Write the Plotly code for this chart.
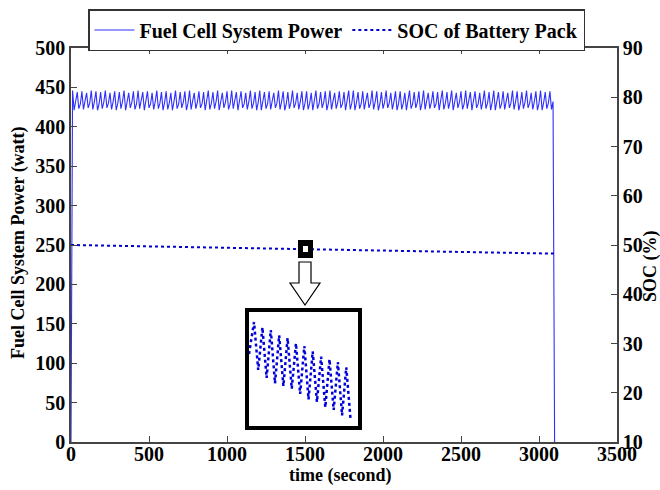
import plotly.graph_objects as go

# ---------------- data ----------------
power_dt = 10.0  # seconds between power samples
power_w = [0,
    446, 421, 431, 444, 423, 429, 445, 422, 433, 443, 424, 430, 446, 422, 432, 445, 421, 429, 444, 423, 431, 446, 424, 430, 443, 422, 432, 445, 421, 430,
    444, 423, 432, 446, 421, 430, 443, 424, 431, 445, 422, 429, 446, 423, 433, 444, 421, 431, 445, 424, 429, 443, 422, 432, 446, 423, 430, 444, 421, 431,
    445, 422, 430, 443, 421, 432, 446, 423, 429, 444, 424, 431, 445, 421, 430, 446, 422, 433, 443, 423, 431, 445, 424, 429, 444, 421, 432, 446, 422, 430,
    444, 423, 432, 446, 421, 430, 443, 424, 431, 445, 422, 429, 446, 423, 433, 444, 421, 431, 445, 424, 429, 443, 422, 432, 446, 423, 430, 444, 421, 431,
    446, 421, 431, 444, 423, 429, 445, 422, 433, 443, 424, 430, 446, 422, 432, 445, 421, 429, 444, 423, 431, 446, 424, 430, 443, 422, 432, 445, 421, 430,
    445, 422, 430, 443, 421, 432, 446, 423, 429, 444, 424, 431, 445, 421, 430, 446, 422, 433, 443, 423, 431, 445, 424, 429, 444, 421, 432, 446, 422, 430,
    446, 421, 431, 444, 423, 429, 445, 422, 433, 443, 424, 430, 446, 422, 432, 445, 421, 429, 444, 423, 431, 446, 424, 430, 443, 422, 432, 445, 421, 430,
    445, 422, 430, 443, 421, 432, 446, 423, 429, 444, 424, 431, 445, 421, 430, 446, 422, 433, 443, 423, 431, 445, 424, 429, 444, 421, 432, 446, 422, 430,
    444, 423, 432, 446, 421, 430, 443, 424, 431, 445, 422, 429, 446, 423, 433, 444, 421, 431, 445, 424, 429, 443, 422, 432, 446, 423, 430, 444, 421, 431,
    446, 421, 431, 444, 423, 429, 445, 422, 433, 443, 424, 430, 446, 422, 432, 445, 421, 429, 444, 423, 431, 446, 424, 430, 443, 422, 432, 445, 421, 430,
    446, 421, 431, 444, 423, 430, 445, 422, 432,
    0]

soc_dt = 100.0  # seconds between SOC samples
soc_pct = [50.00, 49.94, 49.90, 49.83, 49.79, 49.72, 49.67, 49.60, 49.56, 49.49, 49.44,
           49.38, 49.33, 49.26, 49.22, 49.15, 49.10, 49.04, 48.99, 48.92, 48.88, 48.81,
           48.76, 48.70, 48.65, 48.58, 48.54, 48.47, 48.42, 48.36, 48.31, 48.25]

# zoomed detail of SOC around t = 1500 s
inset_t = [1499.0, 1499.6, 1500.1, 1500.6, 1501.1, 1501.6, 1502.1, 1502.6, 1503.1,
           1503.6, 1504.1, 1504.6, 1505.1, 1505.6, 1506.1, 1506.6, 1507.1, 1507.6,
           1508.1, 1508.6, 1509.1, 1509.6, 1510.1, 1510.6, 1511.1]
inset_soc = [49.155, 49.167, 49.149, 49.165, 49.146, 49.164, 49.144, 49.162, 49.143,
             49.161, 49.142, 49.159, 49.140, 49.158, 49.138, 49.156, 49.137, 49.154,
             49.135, 49.153, 49.134, 49.152, 49.132, 49.150, 49.131]

x_ticks = [0, 500, 1000, 1500, 2000, 2500, 3000, 3500]
y1_ticks = [0, 50, 100, 150, 200, 250, 300, 350, 400, 450, 500]
y2_ticks = [10, 20, 30, 40, 50, 60, 70, 80, 90]

# ---------------- layout helpers (pixel -> paper) ----------------
W, H = 660, 490
L, R, T, B = 71, 617, 48, 442
def px(x):
    return (x - L) / (R - L)
def py(y):
    return (B - y) / (B - T)

FONT = "Liberation Serif"
AX = "#444444"

fig = go.Figure()
fig.add_trace(go.Scatter(y=power_w, x0=0, dx=power_dt, mode="lines",
                         name="Fuel Cell System Power",
                         line=dict(color="#2f2fff", width=1.1)))
fig.add_trace(go.Scatter(y=soc_pct, x0=0, dx=soc_dt, mode="lines",
                         name="SOC of Battery Pack", yaxis="y2",
                         line=dict(color="#0000cc", width=2, dash="dot")))
fig.add_trace(go.Scatter(x=inset_t, y=inset_soc, mode="lines", showlegend=False,
                         xaxis="x3", yaxis="y3",
                         line=dict(color="#0000dd", width=2.5, dash="dot")))

tickfont = dict(family=FONT, size=20, color="black", weight="bold")
fig.update_layout(
    width=W, height=H,
    margin=dict(l=L, r=W - R, t=T, b=H - B, autoexpand=False),
    paper_bgcolor="white", plot_bgcolor="white",
    xaxis=dict(range=[0, 3500], tickvals=x_ticks, ticks="inside", ticklen=6,
               tickcolor=AX, showline=True, linecolor=AX, linewidth=1.5,
               mirror="ticks", showgrid=False, zeroline=False, tickfont=tickfont,
               ticklabelstandoff=-7),
    yaxis=dict(range=[0, 500], tickvals=y1_ticks, ticks="inside", ticklen=6,
               tickcolor=AX, showline=True, linecolor=AX, linewidth=1.5,
               showgrid=False, zeroline=False, tickfont=tickfont),
    yaxis2=dict(range=[10, 90], tickvals=y2_ticks, ticks="inside", ticklen=6,
                tickcolor=AX, showline=True, linecolor=AX, linewidth=1.5,
                overlaying="y", side="right", anchor="x",
                showgrid=False, zeroline=False, tickfont=tickfont),
    xaxis3=dict(domain=[px(249), px(358)], range=[1499, 1512], visible=False, anchor="y3"),
    yaxis3=dict(domain=[py(426), py(314)], range=[49.128, 49.170], visible=False, anchor="x3"),
    showlegend=True,
    legend=dict(orientation="h", x=px(88), y=py(9), xanchor="left", yanchor="top",
                bgcolor="white", bordercolor="#333333", borderwidth=1.5,
                font=dict(family=FONT, size=20, color="black", weight="bold"),
                itemwidth=40),
)

lab = dict(family=FONT, size=18, color="black", weight="bold")
fig.add_annotation(text="Fuel Cell System Power (watt)", xref="paper", yref="paper",
                   x=px(18), y=py(243), xanchor="center", yanchor="middle",
                   textangle=-90, showarrow=False, font=lab)
fig.add_annotation(text="SOC (%)", xref="paper", yref="paper",
                   x=px(650), y=py(266), xanchor="center", yanchor="middle",
                   textangle=-90, showarrow=False, font=lab)
fig.add_annotation(text="time (second)", xref="paper", yref="paper",
                   x=px(340), y=py(476), xanchor="center", yanchor="middle",
                   showarrow=False, font=lab)

# marker square on the SOC line
fig.add_shape(type="rect", xref="paper", yref="paper",
              x0=px(298), x1=px(313), y0=py(258), y1=py(240),
              fillcolor="black", line=dict(color="black", width=0))
fig.add_shape(type="rect", xref="paper", yref="paper",
              x0=px(303), x1=px(308), y0=py(252), y1=py(246),
              fillcolor="white", line=dict(color="white", width=0))
# hollow arrow
pts = [(299, 262), (311, 262), (311, 283), (320, 283), (305, 305), (290, 283), (299, 283)]
path = "M " + " L ".join(f"{px(a):.5f},{py(b):.5f}" for a, b in pts) + " Z"
fig.add_shape(type="path", xref="paper", yref="paper", path=path,
              fillcolor="white", line=dict(color="black", width=1.2))
# inset frame
fig.add_shape(type="rect", xref="paper", yref="paper",
              x0=px(247), x1=px(360), y0=py(428), y1=py(310),
              line=dict(color="black", width=4))

fig.write_html("out.html")
